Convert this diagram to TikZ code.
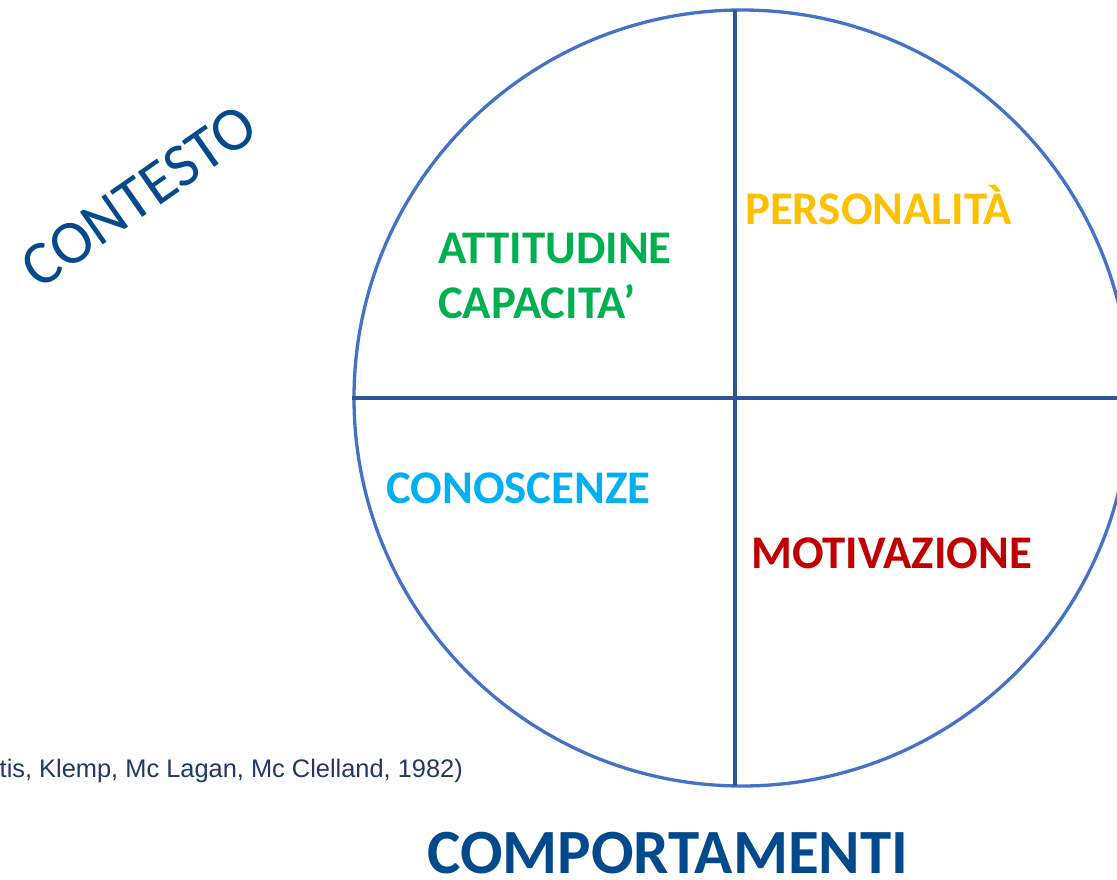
\documentclass[tikz,border=0pt]{standalone}
\usepackage{fontspec}
\setmainfont{Carlito}
\newfontfamily\citefont{Liberation Sans}
\definecolor{ringblue}{HTML}{4472C4}
\definecolor{axisblue}{HTML}{2F5597}
\definecolor{titleblue}{HTML}{034A8C}
\definecolor{citeblue}{HTML}{1F3864}
\definecolor{attgreen}{HTML}{00B050}
\definecolor{persgold}{HTML}{FFC000}
\definecolor{conocyan}{HTML}{00B0F0}
\definecolor{motivred}{HTML}{C00000}

\begin{document}
\begin{tikzpicture}[x=1pt, y=-1pt,
    quadrant/.style ={anchor=base west, inner sep=0pt, font=\fontsize{46.8}{56}\selectfont\bfseries},
    axis/.style ={draw=axisblue, line width=4.5pt}]
  \useasboundingbox (0,0) rectangle (1117,880);

  \node[circle, draw=ringblue, line width=3.3pt, inner sep=0pt, minimum size=776pt] (ring) at (742,398) {};
  \coordinate (vtop) at (735,10.1);
  \coordinate (vbot) at (735,785.9);

  \draw[axis] (ring.west) -- (ring.east);
  \draw[axis] (vtop) -- (vbot);

  \node[quadrant, text=attgreen] (att) at (438,263) {ATTITUDINE};
  \node[quadrant, text=attgreen] (cap) at (438,318) {CAPACITA’};
  \node[quadrant, text=persgold] (pers) at (745,225) {PERSONALITÀ};
  \node[quadrant, text=conocyan] (cono) at (386,503) {CONOSCENZE};
  \node[quadrant, text=motivred] (motiv) at (751,568) {MOTIVAZIONE};

  \node[rotate=35, text=titleblue, font=\fontsize{62}{74}\selectfont] (context) at (139,196) {CONTESTO};
  \node[anchor=base west, inner sep=0pt, text=titleblue, font=\fontsize{63}{75}\selectfont\bfseries] (behaviour) at (427,873) {COMPORTAMENTI};
  \node[anchor=base east, inner sep=0pt, text=citeblue, font=\citefont\fontsize{25.4}{30}\selectfont] (source) at (463,777) {tis, Klemp, Mc Lagan, Mc Clelland, 1982)};
\end{tikzpicture}
\end{document}
